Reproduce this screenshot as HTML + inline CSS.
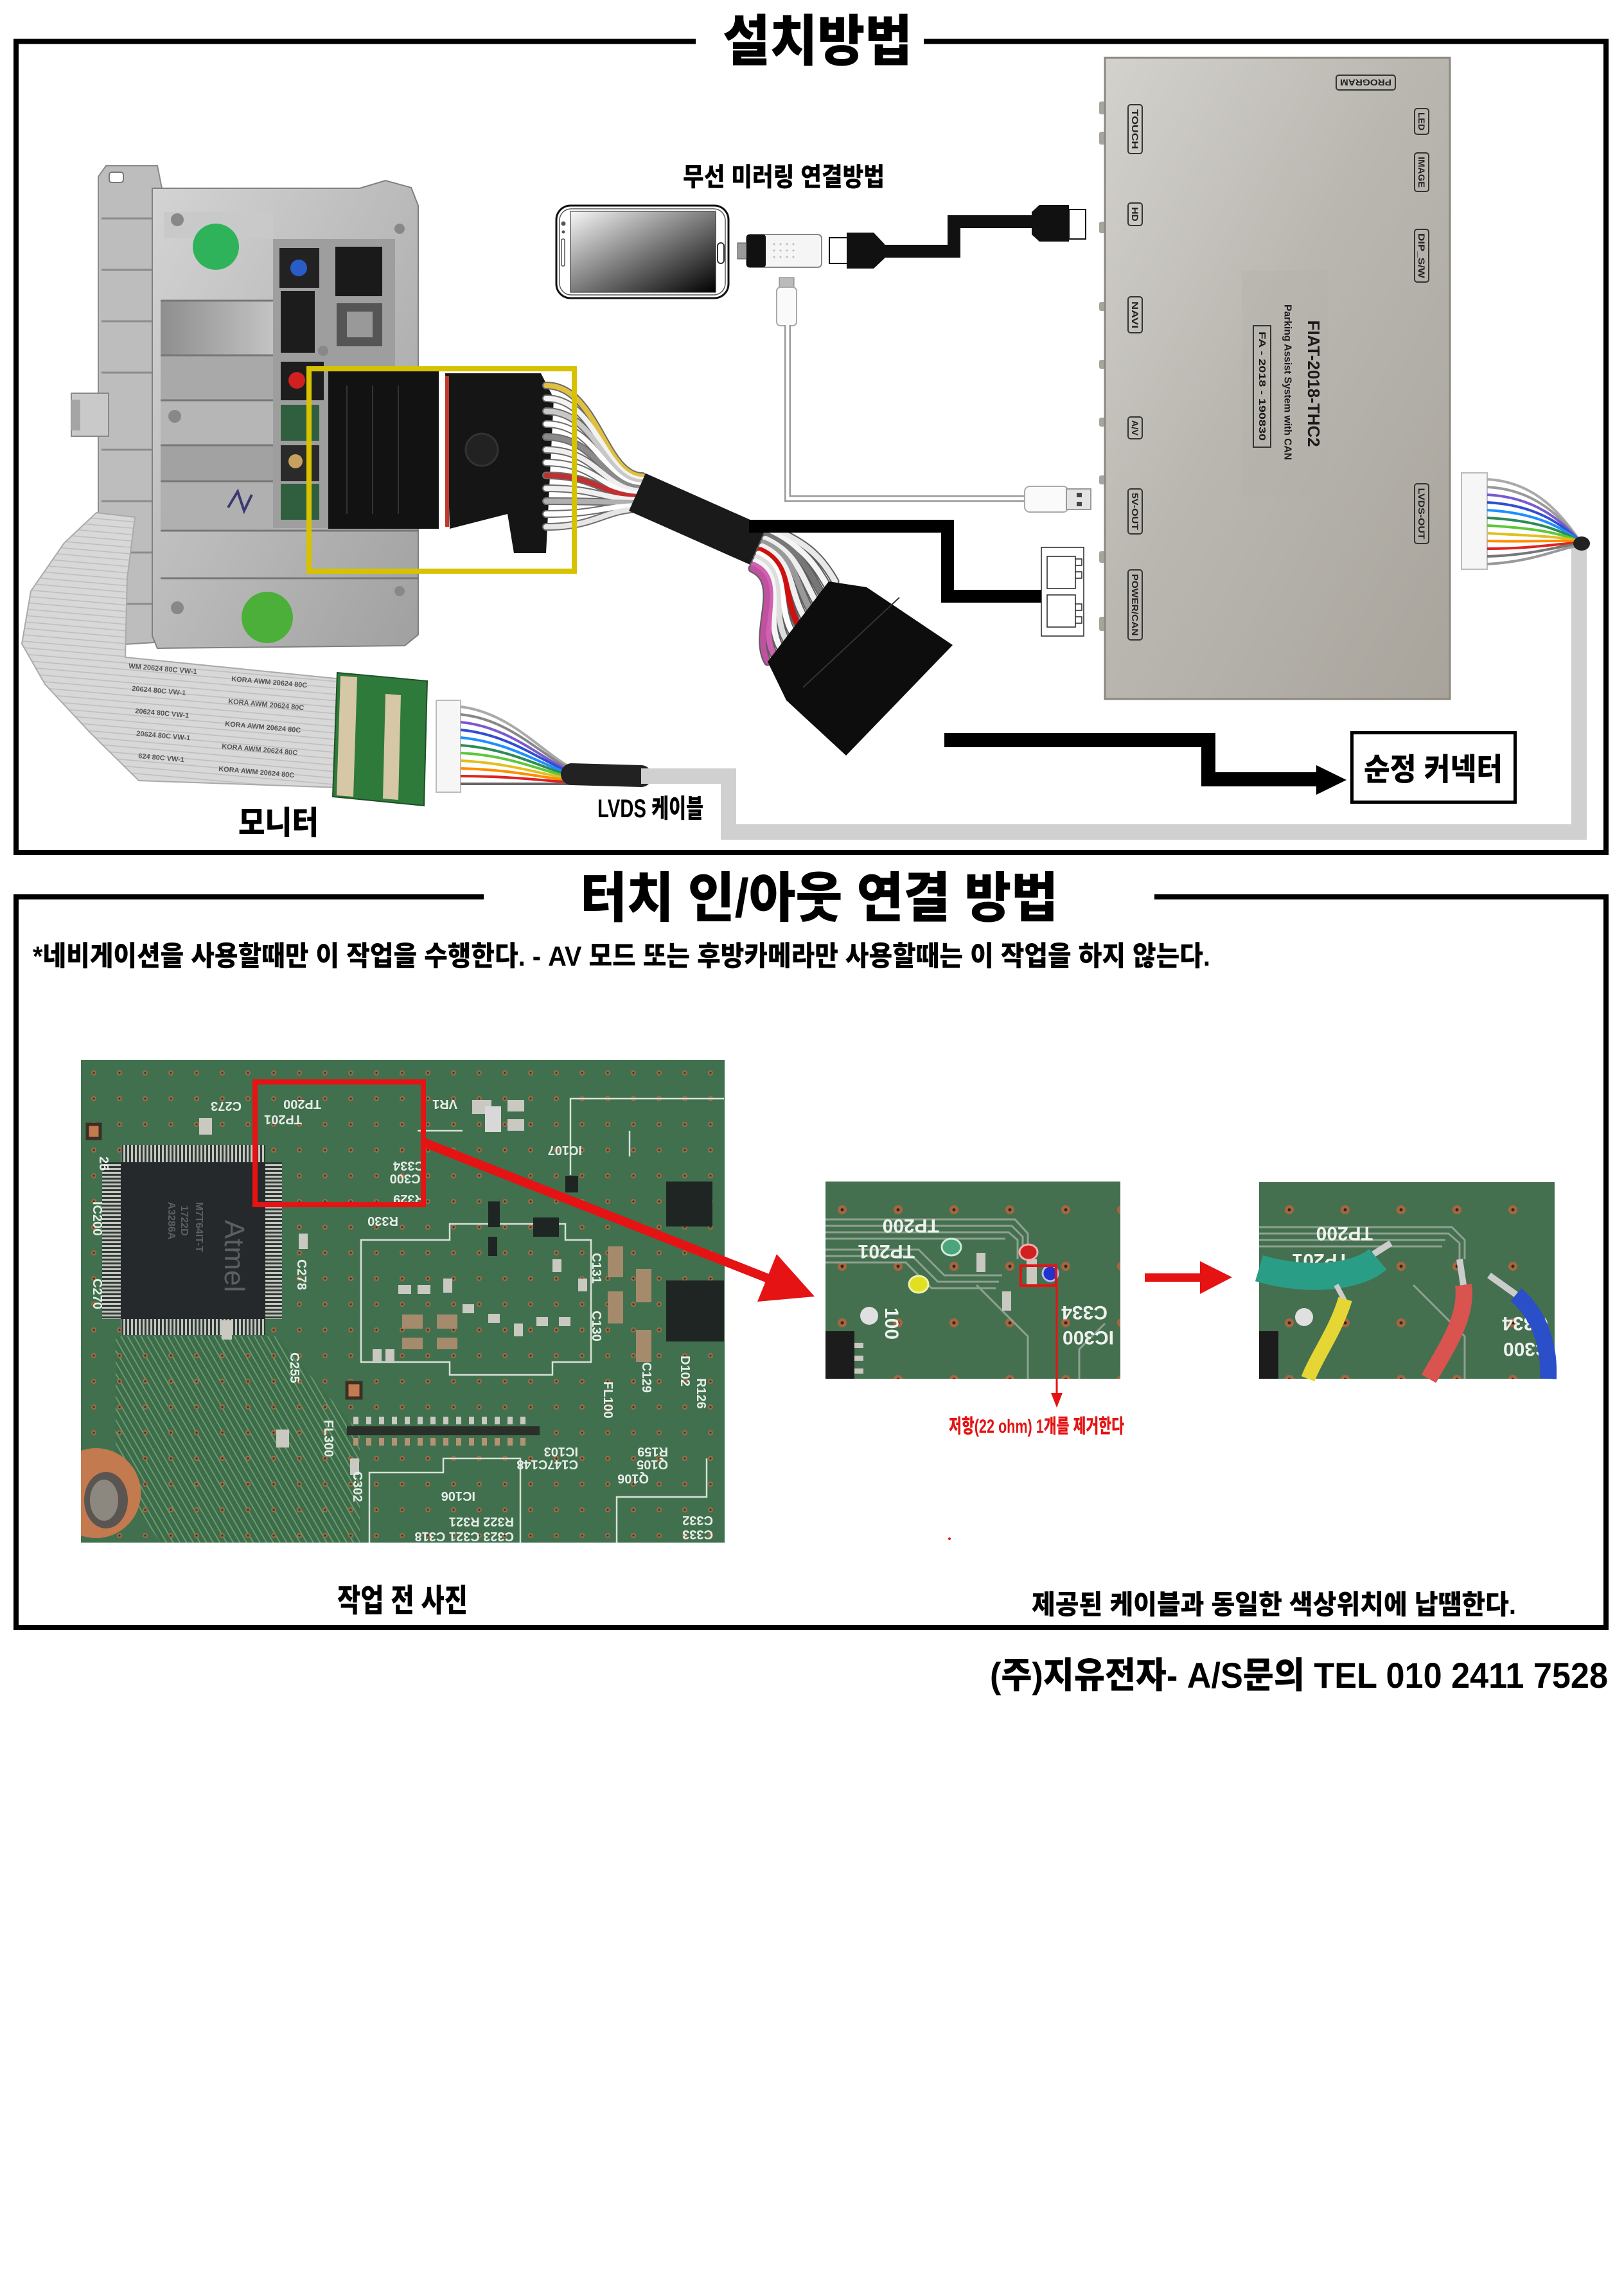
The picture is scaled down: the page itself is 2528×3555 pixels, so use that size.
<!DOCTYPE html>
<html><head><meta charset="utf-8">
<style>
html,body{margin:0;padding:0;background:#fff;}
svg{display:block;}
.k{font-family:"Liberation Sans","Noto Sans CJK KR",sans-serif;font-weight:900;fill:#000;}
.l{font-family:"Liberation Sans",sans-serif;font-weight:bold;}
</style></head><body>
<svg width="2528" height="3555" viewBox="0 0 2528 3555" xmlns="http://www.w3.org/2000/svg">
<defs>
<linearGradient id="metal" x1="0" y1="0" x2="1" y2="1"><stop offset="0" stop-color="#d4d4d4"/><stop offset="0.5" stop-color="#bababa"/><stop offset="1" stop-color="#a0a0a0"/></linearGradient>
<linearGradient id="shade" x1="0" y1="0" x2="1" y2="0"><stop offset="0" stop-color="#8e8e8e"/><stop offset="1" stop-color="#c6c6c6"/></linearGradient>
<linearGradient id="dev" x1="0" y1="0" x2="1" y2="1"><stop offset="0" stop-color="#d4d2cd"/><stop offset="0.45" stop-color="#bab7b1"/><stop offset="1" stop-color="#a8a49c"/></linearGradient>
<linearGradient id="scr" x1="0" y1="0" x2="1" y2="1"><stop offset="0" stop-color="#f6f6f6"/><stop offset="1" stop-color="#000"/></linearGradient>
<pattern id="vias" width="40" height="40" patternUnits="userSpaceOnUse" x="126" y="1650"><circle cx="20" cy="20" r="4" fill="#a06a45"/><circle cx="20" cy="20" r="1.6" fill="#2b3b2e"/></pattern>
<pattern id="vias2" width="87" height="88" patternUnits="userSpaceOnUse" x="1268" y="1840"><circle cx="43" cy="43" r="7" fill="#a8653f"/><circle cx="43" cy="43" r="2.5" fill="#2a2a22"/></pattern>
<pattern id="rib" width="10" height="10" patternUnits="userSpaceOnUse" patternTransform="rotate(5)"><rect width="10" height="10" fill="#d8d8d8"/><line x1="0" y1="1" x2="10" y2="1" stroke="#bcbcbc" stroke-width="1.5"/></pattern>
<pattern id="tr" width="9" height="9" patternUnits="userSpaceOnUse" patternTransform="rotate(60)"><rect width="9" height="9" fill="#3d6c4a"/><line x1="0" y1="4" x2="9" y2="4" stroke="#6a9a6e" stroke-width="2"/></pattern>
<pattern id="pins" width="6" height="6" patternUnits="userSpaceOnUse"><rect width="6" height="6" fill="#2f3a33"/><rect width="3" height="6" fill="#c4c6c2"/></pattern>
<pattern id="pinsh" width="6" height="6" patternUnits="userSpaceOnUse"><rect width="6" height="6" fill="#2f3a33"/><rect width="6" height="3" fill="#c4c6c2"/></pattern>
</defs>
<rect width="2528" height="3555" fill="#fff"/>

<!-- ============ SECTION 1 BORDER ============ -->
<g stroke="#000" stroke-width="8" fill="none">
<path d="M21,64.5 H1083 M1438,64.5 H2504 M25,61 V1331 M2500,61 V1331 M21,1327 H2504"/>
</g>
<text class="k" x="1125" y="94" font-size="86" textLength="295" lengthAdjust="spacingAndGlyphs">설치방법</text>

<!-- ============ HEAD UNIT ============ -->
<g>
<polygon points="153,275 165,258 245,258 252,293 240,1000 160,1005 153,985" fill="#bdbdbd" stroke="#8a8a8a" stroke-width="2"/>
<g stroke="#8c8c8c" stroke-width="3"><line x1="158" y1="340" x2="236" y2="340"/><line x1="158" y1="420" x2="236" y2="420"/><line x1="158" y1="500" x2="236" y2="500"/><line x1="158" y1="580" x2="236" y2="580"/><line x1="158" y1="700" x2="236" y2="700"/><line x1="158" y1="780" x2="236" y2="780"/><line x1="158" y1="860" x2="236" y2="860"/><line x1="158" y1="940" x2="236" y2="940"/></g>
<rect x="170" y="268" width="22" height="16" rx="4" fill="#fff" stroke="#777" stroke-width="2"/>
<rect x="111" y="612" width="58" height="67" fill="#c9c9c9" stroke="#888" stroke-width="2"/>
<rect x="111" y="622" width="14" height="48" fill="#a5a5a5"/>
<polygon points="237,293 560,293 600,281 640,292 651,320 651,988 630,1005 245,1009 237,990" fill="url(#metal)" stroke="#808080" stroke-width="2"/>
<rect x="255" y="330" width="170" height="40" fill="#c9c9c9"/>
<rect x="250" y="468" width="185" height="85" fill="url(#shade)"/>
<rect x="250" y="553" width="185" height="70" fill="#a9a9a9"/>
<rect x="250" y="623" width="185" height="70" fill="#b6b6b6"/>
<rect x="250" y="693" width="185" height="56" fill="#a2a2a2"/>
<rect x="250" y="749" width="185" height="77" fill="#b0b0b0"/>
<g stroke="#777" stroke-width="3"><line x1="250" y1="468" x2="435" y2="468"/><line x1="250" y1="553" x2="435" y2="553"/><line x1="250" y1="623" x2="435" y2="623"/><line x1="250" y1="693" x2="435" y2="693"/><line x1="250" y1="749" x2="435" y2="749"/><line x1="250" y1="826" x2="651" y2="826"/><line x1="250" y1="900" x2="651" y2="900"/></g>
<rect x="425" y="372" width="190" height="450" fill="#9e9e9e"/>
<rect x="435" y="386" width="62" height="62" fill="#222"/><circle cx="465" cy="417" r="13" fill="#2a5cc8"/>
<rect x="522" y="384" width="73" height="77" fill="#1a1a1a"/>
<rect x="437" y="453" width="53" height="96" fill="#1c1c1c"/>
<rect x="524" y="472" width="71" height="67" fill="#555"/><rect x="540" y="485" width="40" height="40" fill="#999"/>
<rect x="437" y="563" width="67" height="60" fill="#1d1d1d"/><circle cx="462" cy="592" r="13" fill="#d02020"/>
<rect x="437" y="630" width="60" height="56" fill="#2f5f3f"/>
<rect x="437" y="693" width="60" height="56" fill="#2a2a2a"/><circle cx="460" cy="718" r="11" fill="#c8a060"/>
<rect x="437" y="753" width="60" height="56" fill="#2f5f3f"/>
<circle cx="276" cy="342" r="10" fill="#888"/><circle cx="272" cy="648" r="10" fill="#888"/><circle cx="276" cy="946" r="10" fill="#888"/><circle cx="622" cy="356" r="8" fill="#888"/><circle cx="622" cy="920" r="8" fill="#888"/><circle cx="503" cy="546" r="8" fill="#888"/>
<circle cx="336" cy="384" r="36" fill="#2fb35a"/>
<circle cx="416" cy="961" r="40" fill="#4caf3a"/>
<path d="M355,790 l15,-25 l10,30 l12,-25" stroke="#3a3a70" stroke-width="4" fill="none"/>
</g>

<!-- ribbon -->
<polygon points="150,798 210,805 198,900 195,1023 543,1058 532,1226 216,1215 140,1140 70,1065 34,1002 48,920 100,845" fill="url(#rib)" stroke="#aaa" stroke-width="2"/>
<g class="l" font-size="11" fill="#555">
<text x="200" y="1040" transform="rotate(5 200 1040)">WM 20624 80C VW-1</text>
<text x="360" y="1060" transform="rotate(5 360 1060)">KORA AWM 20624 80C</text>
<text x="205" y="1075" transform="rotate(5 205 1075)">20624 80C VW-1</text>
<text x="355" y="1095" transform="rotate(5 355 1095)">KORA AWM 20624 80C</text>
<text x="210" y="1110" transform="rotate(5 210 1110)">20624 80C VW-1</text>
<text x="350" y="1130" transform="rotate(5 350 1130)">KORA AWM 20624 80C</text>
<text x="212" y="1145" transform="rotate(5 212 1145)">20624 80C VW-1</text>
<text x="345" y="1165" transform="rotate(5 345 1165)">KORA AWM 20624 80C</text>
<text x="215" y="1180" transform="rotate(5 215 1180)">624 80C VW-1</text>
<text x="340" y="1200" transform="rotate(5 340 1200)">KORA AWM 20624 80C</text>
</g>
<!-- small green pcb -->
<polygon points="525,1047 665,1060 660,1254 518,1240" fill="#2e7a3a" stroke="#1f4f27" stroke-width="2"/>
<polygon points="530,1052 556,1054 550,1240 524,1238" fill="#d6c7a6"/>
<polygon points="600,1080 624,1082 620,1245 596,1243" fill="#d6c7a6"/>

<!-- monitor-side LVDS connector -->
<rect x="679" y="1090" width="38" height="143" fill="#f6f6f6" stroke="#bbb" stroke-width="2"/>
<g fill="none" stroke-width="4">
<path d="M717,1100 C800,1110 850,1180 900,1200" stroke="#aaa"/>
<path d="M717,1112 C800,1120 850,1185 900,1202" stroke="#888"/>
<path d="M717,1124 C800,1132 850,1190 900,1204" stroke="#7a5ad0"/>
<path d="M717,1136 C800,1144 850,1192 900,1206" stroke="#3050d0"/>
<path d="M717,1148 C800,1156 850,1196 900,1208" stroke="#1e90ff"/>
<path d="M717,1160 C800,1166 850,1200 900,1210" stroke="#2e8b57"/>
<path d="M717,1172 C800,1176 850,1204 900,1212" stroke="#5cc83a"/>
<path d="M717,1184 C800,1188 850,1208 900,1214" stroke="#e0c020"/>
<path d="M717,1196 C800,1198 850,1212 900,1216" stroke="#ff8c00"/>
<path d="M717,1208 C800,1208 850,1216 900,1218" stroke="#d22"/>
<path d="M717,1220 C800,1220 850,1220 900,1220" stroke="#666"/>
</g>
<path d="M890,1205 L998,1208" stroke="#222" stroke-width="34" stroke-linecap="round"/>

<!-- gray LVDS cable -->
<path d="M998,1208 H1134 V1295 H2458 V852" stroke="#d0d0d0" stroke-width="24" fill="none"/>

<!-- harness: connectors in yellow box -->
<rect x="511" y="577" width="172" height="246" fill="#121212"/>
<g stroke="#333" stroke-width="2"><line x1="540" y1="600" x2="540" y2="800"/><line x1="580" y1="600" x2="580" y2="800"/><line x1="620" y1="600" x2="620" y2="800"/></g>
<polygon points="693,581 842,581 862,620 850,861 800,861 790,800 700,823" fill="#151515"/>
<rect x="693" y="585" width="6" height="235" fill="#c0392b"/>
<circle cx="750" cy="700" r="25" fill="#222" stroke="#333" stroke-width="3"/>

<!-- wires A -->
<g fill="none" stroke-linecap="round">
<g stroke="#6d6d6d" stroke-width="12">
<path d="M850,600 C930,600 940,741 1000,741"/><path d="M850,620 C930,620 940,746 1000,746"/><path d="M850,640 C930,640 940,750 1000,750"/><path d="M850,660 C930,660 940,755 1000,755"/><path d="M850,680 C930,680 940,759 1000,759"/><path d="M850,700 C930,700 940,764 1000,764"/><path d="M850,720 C930,720 940,769 1000,769"/><path d="M850,740 C930,740 940,773 1000,773"/><path d="M850,760 C930,760 940,778 1000,778"/><path d="M850,780 C930,780 940,782 1000,782"/><path d="M850,800 C930,800 940,787 1000,787"/><path d="M850,820 C930,820 940,792 1000,792"/>
</g>
<g stroke-width="8">
<path d="M850,600 C930,600 940,741 1000,741" stroke="#e0c040"/><path d="M850,620 C930,620 940,746 1000,746" stroke="#f2f2f2"/><path d="M850,640 C930,640 940,750 1000,750" stroke="#c8c8c8"/><path d="M850,660 C930,660 940,755 1000,755" stroke="#fff"/><path d="M850,680 C930,680 940,759 1000,759" stroke="#8a8a8a"/><path d="M850,700 C930,700 940,764 1000,764" stroke="#eee"/><path d="M850,720 C930,720 940,769 1000,769" stroke="#fafafa"/><path d="M850,740 C930,740 940,773 1000,773" stroke="#c03030"/><path d="M850,760 C930,760 940,778 1000,778" stroke="#f0f0f0"/><path d="M850,780 C930,780 940,782 1000,782" stroke="#b0b0b0"/><path d="M850,800 C930,800 940,787 1000,787" stroke="#fff"/><path d="M850,820 C930,820 940,792 1000,792" stroke="#e6e6e6"/>
</g>
</g>
<!-- tape -->
<path d="M992,766 L1188,853" stroke="#1a1a1a" stroke-width="64"/>
<!-- wires B -->
<g fill="none" stroke-linecap="round">
<g stroke="#5e5e5e" stroke-width="13">
<path d="M1199,821 C1249,843 1275,860 1300,905"/><path d="M1196.5,826.8 C1246,849 1265,871 1290.5,916.4"/><path d="M1193.9,832.6 C1244,855 1256,883 1280.9,927.7"/><path d="M1191.4,838.5 C1241,861 1246,894 1271.4,939.1"/><path d="M1188.8,844.3 C1239,866 1237,905 1261.8,950.5"/><path d="M1186.3,850.1 C1236,872 1227,917 1252.3,961.8"/><path d="M1183.7,855.9 C1234,878 1218,928 1242.7,973.2"/><path d="M1181.2,861.7 C1231,884 1208,940 1233.2,984.5"/><path d="M1178.6,867.5 C1229,890 1199,951 1223.6,995.9"/><path d="M1176.1,873.4 C1226,895 1189,962 1214.1,1007.3"/><path d="M1173.5,879.2 C1224,901 1180,974 1204.5,1018.6"/><path d="M1171,885 C1221,907 1170,985 1195,1030"/>
</g>
<g stroke-width="9">
<path d="M1199,821 C1249,843 1275,860 1300,905" stroke="#e8e8e8"/><path d="M1196.5,826.8 C1246,849 1265,871 1290.5,916.4" stroke="#f4f4f4"/><path d="M1193.9,832.6 C1244,855 1256,883 1280.9,927.7" stroke="#777"/><path d="M1191.4,838.5 C1241,861 1246,894 1271.4,939.1" stroke="#eee"/><path d="M1188.8,844.3 C1239,866 1237,905 1261.8,950.5" stroke="#999"/><path d="M1186.3,850.1 C1236,872 1227,917 1252.3,961.8" stroke="#f0f0f0"/><path d="M1183.7,855.9 C1234,878 1218,928 1242.7,973.2" stroke="#cc1111"/><path d="M1181.2,861.7 C1231,884 1208,940 1233.2,984.5" stroke="#fff"/><path d="M1178.6,867.5 C1229,890 1199,951 1223.6,995.9" stroke="#ddd"/><path d="M1176.1,873.4 C1226,895 1189,962 1214.1,1007.3" stroke="#f5f5f5"/><path d="M1173.5,879.2 C1224,901 1180,974 1204.5,1018.6" stroke="#d060b0"/><path d="M1171,885 C1221,907 1170,985 1195,1030" stroke="#c050a0"/>
</g>
</g>
<!-- harness black connector -->
<polygon points="1195,1030 1290,905 1349,914 1483,1004 1317,1176 1224,1090" fill="#0d0d0d"/>
<line x1="1250" y1="1070" x2="1400" y2="930" stroke="#333" stroke-width="2"/>

<!-- yellow box -->
<rect x="481" y="574" width="413" height="315" fill="none" stroke="#d6c200" stroke-width="8"/>

<!-- black line to power connector -->
<path d="M1166,819 H1475 V928 H1625" stroke="#000" stroke-width="20" fill="none"/>
<!-- power connector white -->
<g fill="#fff" stroke="#222" stroke-width="1.5">
<rect x="1621" y="852" width="66" height="138"/>
<rect x="1630" y="866" width="44" height="50"/>
<rect x="1630" y="926" width="44" height="50"/>
<path d="M1674,870 h10 v10 h-10 M1674,890 h10 v10 h-10 M1674,940 h10 v10 h-10 M1674,960 h10 v10 h-10" fill="none"/>
</g>

<!-- phone -->
<rect x="866" y="320" width="268" height="144" rx="22" fill="#fff" stroke="#111" stroke-width="3"/>
<rect x="871" y="325" width="258" height="134" rx="18" fill="none" stroke="#555" stroke-width="1.5"/>
<rect x="888" y="329" width="226" height="126" fill="url(#scr)" stroke="#222" stroke-width="1"/>
<circle cx="877" cy="348" r="3.5" fill="#555"/><circle cx="877" cy="361" r="2.5" fill="#555"/>
<rect x="874" y="372" width="5" height="42" rx="2" fill="none" stroke="#555" stroke-width="1.5"/>
<rect x="1117" y="378" width="10" height="32" rx="5" fill="none" stroke="#333" stroke-width="2"/>
<!-- dongle -->
<rect x="1148" y="378" width="16" height="25" fill="#9a9a9a" stroke="#555" stroke-width="1"/>
<rect x="1162" y="365" width="117" height="51" rx="6" fill="#f5f5f5" stroke="#888" stroke-width="2"/>
<rect x="1162" y="365" width="30" height="51" rx="4" fill="#111"/>
<g fill="#bbb"><circle cx="1205" cy="380" r="1.5"/><circle cx="1215" cy="380" r="1.5"/><circle cx="1225" cy="380" r="1.5"/><circle cx="1235" cy="380" r="1.5"/><circle cx="1205" cy="390" r="1.5"/><circle cx="1215" cy="390" r="1.5"/><circle cx="1225" cy="390" r="1.5"/><circle cx="1235" cy="390" r="1.5"/><circle cx="1205" cy="400" r="1.5"/><circle cx="1215" cy="400" r="1.5"/><circle cx="1225" cy="400" r="1.5"/><circle cx="1235" cy="400" r="1.5"/></g>
<!-- HDMI plug left -->
<rect x="1291" y="370" width="28" height="40" fill="#fff" stroke="#111" stroke-width="2"/>
<polygon points="1318,362 1360,362 1377,380 1377,402 1360,418 1318,418" fill="#111"/>
<path d="M1377,391 H1485 V345 H1606" stroke="#111" stroke-width="20" fill="none"/>
<!-- HDMI plug right -->
<polygon points="1606,330 1618,319 1664,319 1664,376 1618,376 1606,365" fill="#111"/>
<rect x="1664" y="326" width="26" height="46" fill="#fff" stroke="#111" stroke-width="2"/>
<!-- micro usb + cable -->
<rect x="1213" y="432" width="23" height="16" fill="#bbb" stroke="#777" stroke-width="1"/>
<rect x="1209" y="447" width="31" height="60" rx="6" fill="#fafafa" stroke="#aaa" stroke-width="2"/>
<path d="M1226,506 V776 H1598" stroke="#9a9a9a" stroke-width="10" fill="none"/>
<path d="M1226,506 V776 H1598" stroke="#fff" stroke-width="5" fill="none"/>
<rect x="1595" y="757" width="68" height="40" rx="8" fill="#fafafa" stroke="#aaa" stroke-width="2"/>
<rect x="1660" y="761" width="38" height="32" fill="#e4e4e4" stroke="#999" stroke-width="2"/>
<rect x="1676" y="767" width="8" height="7" fill="#444"/><rect x="1676" y="781" width="8" height="7" fill="#444"/>
<text class="k" x="1063" y="289" font-size="40" textLength="314" lengthAdjust="spacingAndGlyphs">무선 미러링 연결방법</text>

<!-- ============ DEVICE ============ -->
<g fill="#a7a49e">
<rect x="1711" y="158" width="12" height="20" rx="3"/><rect x="1711" y="205" width="12" height="20" rx="3"/><rect x="1711" y="345" width="12" height="18" rx="3"/><rect x="1711" y="470" width="12" height="14" rx="3"/><rect x="1711" y="560" width="12" height="14" rx="3"/><rect x="1711" y="650" width="12" height="14" rx="3"/><rect x="1711" y="740" width="12" height="14" rx="3"/><rect x="1711" y="858" width="12" height="18" rx="3"/><rect x="1711" y="960" width="12" height="22" rx="3"/>
</g>
<rect x="1720" y="90" width="537" height="998" fill="url(#dev)" stroke="#8c8880" stroke-width="3"/>
<rect x="1933" y="421" width="134" height="352" fill="#b2afa8" opacity="0.3"/>
<g fill="none" stroke="#333" stroke-width="2">
<rect x="1756" y="163" width="22" height="76" rx="4"/>
<rect x="1756" y="316" width="22" height="35" rx="4"/>
<rect x="1756" y="462" width="22" height="56" rx="4"/>
<rect x="1756" y="649" width="22" height="34" rx="4"/>
<rect x="1756" y="761" width="22" height="70" rx="4"/>
<rect x="1756" y="887" width="22" height="109" rx="4"/>
<rect x="2202" y="169" width="22" height="40" rx="4"/>
<rect x="2202" y="238" width="22" height="60" rx="4"/>
<rect x="2202" y="357" width="22" height="82" rx="4"/>
<rect x="2202" y="753" width="22" height="93" rx="4"/>
<rect x="2080" y="117" width="92" height="23" rx="4"/>
<rect x="1951" y="507" width="27" height="189"/>
</g>
<g class="l" fill="#222" font-size="14" font-weight="normal" text-anchor="middle" dominant-baseline="central">
<text transform="translate(1767,201) rotate(90)" textLength="62" lengthAdjust="spacingAndGlyphs">TOUCH</text>
<text transform="translate(1767,333.5) rotate(90)" textLength="22" lengthAdjust="spacingAndGlyphs">HD</text>
<text transform="translate(1767,490) rotate(90)" textLength="42" lengthAdjust="spacingAndGlyphs">NAVI</text>
<text transform="translate(1767,666) rotate(90)" textLength="24" lengthAdjust="spacingAndGlyphs">A/V</text>
<text transform="translate(1767,796) rotate(90)" textLength="58" lengthAdjust="spacingAndGlyphs">5V-OUT</text>
<text transform="translate(1767,941.5) rotate(90)" textLength="96" lengthAdjust="spacingAndGlyphs">POWER/CAN</text>
<text transform="translate(2213,189) rotate(90)" textLength="28" lengthAdjust="spacingAndGlyphs">LED</text>
<text transform="translate(2213,268) rotate(90)" textLength="48" lengthAdjust="spacingAndGlyphs">IMAGE</text>
<text transform="translate(2213,398) rotate(90)" textLength="70" lengthAdjust="spacingAndGlyphs">DIP_S/W</text>
<text transform="translate(2213,799.5) rotate(90)" textLength="80" lengthAdjust="spacingAndGlyphs">LVDS-OUT</text>
<text transform="translate(2126,128.5) rotate(180)" textLength="80" lengthAdjust="spacingAndGlyphs">PROGRAM</text>
</g>
<g class="l" fill="#1a1a1a" text-anchor="middle" dominant-baseline="central">
<text transform="translate(2045,597) rotate(90)" font-size="26" textLength="197" lengthAdjust="spacingAndGlyphs">FIAT-2018-THC2</text>
<text transform="translate(2004,595) rotate(90)" font-size="16" textLength="242" lengthAdjust="spacingAndGlyphs">Parking Assist System with CAN</text>
<text transform="translate(1964.5,601) rotate(90)" font-size="15" textLength="170" lengthAdjust="spacingAndGlyphs">FA - 2018 - 190830</text>
</g>

<!-- right LVDS connector -->
<rect x="2275" y="736" width="40" height="150" fill="#f6f6f6" stroke="#bbb" stroke-width="2"/>
<g fill="none" stroke-width="4">
<path d="M2315,746 C2390,750 2430,800 2460,843" stroke="#aaa"/>
<path d="M2315,758 C2390,762 2430,805 2460,843" stroke="#999"/>
<path d="M2315,770 C2390,774 2430,810 2460,843" stroke="#7a5ad0"/>
<path d="M2315,782 C2390,786 2430,815 2460,843" stroke="#3050d0"/>
<path d="M2315,794 C2390,798 2430,820 2460,843" stroke="#1e90ff"/>
<path d="M2315,806 C2390,810 2430,825 2460,843" stroke="#2e8b57"/>
<path d="M2315,818 C2390,822 2430,830 2460,843" stroke="#5cc83a"/>
<path d="M2315,830 C2390,834 2430,835 2460,843" stroke="#e0c020"/>
<path d="M2315,842 C2390,844 2430,840 2460,843" stroke="#ff8c00"/>
<path d="M2315,854 C2390,854 2430,845 2460,845" stroke="#d22"/>
<path d="M2315,866 C2390,864 2430,848 2460,847" stroke="#777"/>
<path d="M2315,878 C2390,874 2430,852 2460,849" stroke="#999"/>
</g>
<ellipse cx="2462" cy="846" rx="13" ry="11" fill="#222"/>

<!-- black arrow to 순정 커넥터 -->
<path d="M1470,1152 H1881 V1213 H2052" stroke="#000" stroke-width="22" fill="none"/>
<polygon points="2049,1191 2049,1237 2096,1214" fill="#000"/>
<rect x="2104.5" y="1140.5" width="254" height="108" fill="#fff" stroke="#000" stroke-width="5"/>
<text class="k" x="2123" y="1214" font-size="48" textLength="216" lengthAdjust="spacingAndGlyphs">순정 커넥터</text>

<text class="k" x="371" y="1298" font-size="50" textLength="125" lengthAdjust="spacingAndGlyphs">모니터</text>
<text class="k" x="930" y="1272" font-size="40" textLength="165" lengthAdjust="spacingAndGlyphs">LVDS 케이블</text>

<!-- ============ SECTION 2 ============ -->
<g stroke="#000" stroke-width="8" fill="none">
<path d="M21,1396 H753 M1797,1396 H2504 M25,1392 V2537 M2500,1392 V2537 M21,2533 H2504"/>
</g>
<text class="k" x="903" y="1427" font-size="84" textLength="744" lengthAdjust="spacingAndGlyphs">터치 인/아웃 연결 방법</text>
<text class="k" x="51" y="1503" font-size="43" textLength="1833" lengthAdjust="spacingAndGlyphs">*네비게이션을 사용할때만 이 작업을 수행한다. - AV 모드 또는 후방카메라만 사용할때는 이 작업을 하지 않는다.</text>

<!-- big PCB -->
<rect x="126" y="1650" width="1002" height="751" fill="#41704e"/>
<polygon points="180,2080 430,2080 560,2230 560,2401 250,2401 180,2300" fill="url(#tr)"/>
<rect x="126" y="1650" width="1002" height="751" fill="url(#vias)"/>
<g fill="none" stroke="#d8e2d8" stroke-width="2.5">
<path d="M562,1930 H700 V1905 H880 V1930 H920 V2120 H860 V2140 H700 V2120 H562 Z"/>
<path d="M888,1829 V1710 H1127"/>
<path d="M575,2401 V2292 H690 V2270 H810 V2401"/>
<path d="M960,2401 V2330 H1100 V2270"/>
<path d="M650,1760 H720 M980,1760 V1800"/>
</g>
<!-- chip -->
<rect x="188" y="1782" width="225" height="27" fill="url(#pins)"/>
<rect x="188" y="2053" width="225" height="25" fill="url(#pins)"/>
<rect x="159" y="1809" width="29" height="244" fill="url(#pinsh)"/>
<rect x="413" y="1809" width="26" height="244" fill="url(#pinsh)"/>
<rect x="188" y="1809" width="225" height="244" fill="#26292c"/>
<g fill="#5b5e62" class="l">
<text transform="translate(350,1955) rotate(90)" font-size="44" font-weight="normal" text-anchor="middle">Atmel</text>
<text transform="translate(305,1910) rotate(90)" font-size="16" text-anchor="middle">M7T64IT-T</text>
<text transform="translate(282,1900) rotate(90)" font-size="16" text-anchor="middle">1722D</text>
<text transform="translate(262,1900) rotate(90)" font-size="16" text-anchor="middle">A3286A</text>
</g>
<!-- copper circle -->
<path d="M126,2258 A70,70 0 1 1 126,2390 Z" fill="#c27a4e"/>
<ellipse cx="165" cy="2335" rx="34" ry="44" fill="#5a5550"/>
<ellipse cx="162" cy="2335" rx="22" ry="32" fill="#8d887f"/>
<rect x="136" y="1750" width="20" height="22" fill="#c27a4e" stroke="#3a2f25" stroke-width="5"/>
<rect x="540" y="2152" width="22" height="24" fill="#c27a4e" stroke="#3a2f25" stroke-width="5"/>
<!-- components -->
<g fill="#c9c9c2">
<rect x="735" y="1712" width="30" height="22"/><rect x="790" y="1712" width="26" height="18"/><rect x="790" y="1742" width="26" height="18"/><rect x="755" y="1722" width="25" height="40" fill="#d8d8d8"/>
<rect x="620" y="2000" width="20" height="14"/><rect x="650" y="2000" width="20" height="14"/><rect x="690" y="1990" width="14" height="22"/><rect x="720" y="2030" width="18" height="14"/><rect x="760" y="2045" width="18" height="14"/><rect x="800" y="2060" width="14" height="20"/><rect x="835" y="2050" width="18" height="14"/><rect x="870" y="2050" width="18" height="14"/>
<rect x="580" y="2100" width="14" height="20"/><rect x="600" y="2100" width="14" height="20"/><rect x="900" y="1990" width="14" height="20"/><rect x="860" y="1960" width="14" height="20"/>
<rect x="345" y="2055" width="16" height="30"/><rect x="465" y="1920" width="14" height="24"/><rect x="310" y="1740" width="20" height="26"/><rect x="430" y="2225" width="20" height="28"/><rect x="545" y="2270" width="14" height="26"/>
</g>
<g fill="#a58b6c">
<rect x="626" y="2046" width="32" height="22"/><rect x="680" y="2046" width="32" height="22"/><rect x="626" y="2082" width="32" height="18"/><rect x="680" y="2082" width="32" height="18"/>
<rect x="946" y="1940" width="24" height="48"/><rect x="990" y="1975" width="24" height="52"/><rect x="946" y="2010" width="24" height="50"/><rect x="990" y="2070" width="24" height="50"/>
</g>
<g fill="#1f2522">
<rect x="760" y="1870" width="18" height="40"/><rect x="760" y="1925" width="14" height="30"/><rect x="830" y="1895" width="40" height="30"/>
<rect x="1037" y="1839" width="72" height="70"/>
<rect x="1037" y="1993" width="90" height="95"/>
<rect x="880" y="1830" width="20" height="26"/>
</g>
<rect x="540" y="2220" width="300" height="14" fill="#2a2f2a"/>
<g fill="#c9c9c2"><rect x="550" y="2205" width="8" height="12"/><rect x="570" y="2205" width="8" height="12"/><rect x="590" y="2205" width="8" height="12"/><rect x="610" y="2205" width="8" height="12"/><rect x="630" y="2205" width="8" height="12"/><rect x="650" y="2205" width="8" height="12"/><rect x="670" y="2205" width="8" height="12"/><rect x="690" y="2205" width="8" height="12"/><rect x="710" y="2205" width="8" height="12"/><rect x="730" y="2205" width="8" height="12"/><rect x="750" y="2205" width="8" height="12"/><rect x="770" y="2205" width="8" height="12"/><rect x="790" y="2205" width="8" height="12"/><rect x="810" y="2205" width="8" height="12"/></g>
<g fill="#b59372"><rect x="550" y="2238" width="8" height="12"/><rect x="570" y="2238" width="8" height="12"/><rect x="590" y="2238" width="8" height="12"/><rect x="610" y="2238" width="8" height="12"/><rect x="630" y="2238" width="8" height="12"/><rect x="650" y="2238" width="8" height="12"/><rect x="670" y="2238" width="8" height="12"/><rect x="690" y="2238" width="8" height="12"/><rect x="710" y="2238" width="8" height="12"/><rect x="730" y="2238" width="8" height="12"/><rect x="750" y="2238" width="8" height="12"/><rect x="770" y="2238" width="8" height="12"/><rect x="790" y="2238" width="8" height="12"/><rect x="810" y="2238" width="8" height="12"/></g>
<g class="l" fill="#e6ece6" font-size="20">
<text transform="translate(376,1715) rotate(180)">C273</text>
<text transform="translate(500,1712) rotate(180)">TP200</text>
<text transform="translate(470,1736) rotate(180)">TP201</text>
<text transform="translate(906,1784) rotate(180)">IC107</text>
<text transform="translate(660,1808) rotate(180)">C334</text>
<text transform="translate(660,1828) rotate(180)">IC300</text>
<text transform="translate(660,1860) rotate(180)">R329</text>
<text transform="translate(620,1894) rotate(180)">R330</text>
<text transform="translate(712,1712) rotate(180)">VR1</text>
<text transform="translate(463,1960) rotate(90)">C278</text>
<text transform="translate(452,2105) rotate(90)">C255</text>
<text transform="translate(922,1950) rotate(90)">C131</text>
<text transform="translate(922,2040) rotate(90)">C130</text>
<text transform="translate(505,2210) rotate(90)">FL300</text>
<text transform="translate(550,2290) rotate(90)">C302</text>
<text transform="translate(940,2150) rotate(90)">FL100</text>
<text transform="translate(1060,2110) rotate(90)">D102</text>
<text transform="translate(1085,2145) rotate(90)">R126</text>
<text transform="translate(1000,2120) rotate(90)">C129</text>
<text transform="translate(740,2322) rotate(180)">IC106</text>
<text transform="translate(900,2253) rotate(180)">IC103</text>
<text transform="translate(900,2273) rotate(180)">C147C148</text>
<text transform="translate(1040,2273) rotate(180)">Q105</text>
<text transform="translate(1010,2295) rotate(180)">Q106</text>
<text transform="translate(1040,2253) rotate(180)">R159</text>
<text transform="translate(800,2362) rotate(180)">R322 R321</text>
<text transform="translate(800,2385) rotate(180)">C323 C321 C318</text>
<text transform="translate(1110,2360) rotate(180)">C332</text>
<text transform="translate(1110,2382) rotate(180)">C333</text>
<text transform="translate(155,1800) rotate(90)">25</text>
<text transform="translate(145,1870) rotate(90)">IC200</text>
<text transform="translate(145,1990) rotate(90)">C270</text>
</g>
<!-- red box + arrow -->
<rect x="397" y="1684" width="262" height="191" fill="none" stroke="#e51313" stroke-width="8"/>
<line x1="659" y1="1778" x2="1196" y2="1990" stroke="#e51313" stroke-width="14"/>
<polygon points="1268,2018 1179,2026 1209,1952" fill="#e51313"/>

<!-- middle photo -->
<rect x="1285" y="1839" width="459" height="307" fill="#44704f"/>
<rect x="1285" y="1839" width="459" height="307" fill="url(#vias2)"/>
<g fill="none" stroke="#8fa191" stroke-width="3">
<path d="M1285,1898 H1580 L1600,1920 V1960"/><path d="M1285,1908 H1575 L1592,1925 V1960"/><path d="M1285,1918 H1570 L1584,1930 V1960"/><path d="M1285,1928 H1565"/><path d="M1285,1945 H1430 L1470,1985 H1560"/><path d="M1285,1955 H1420 L1460,1995 H1555"/><path d="M1285,1965 H1410 L1450,2005 H1550"/>
<path d="M1520,2000 L1600,2080 V2146"/><path d="M1680,2146 V2100 L1720,2060"/>
</g>
<g class="l" fill="#eef2ee" font-size="30">
<text transform="translate(1462,1898) rotate(180)">TP200</text>
<text transform="translate(1424,1938) rotate(180)">TP201</text>
<text transform="translate(1724,2033) rotate(180)">C334</text>
<text transform="translate(1734,2072) rotate(180)">IC300</text>
<text transform="translate(1378,2035) rotate(90)">100</text>
</g>
<circle cx="1353" cy="2048" r="14" fill="#e0e0e0"/>
<rect x="1285" y="2072" width="45" height="74" fill="#1c1c1c"/>
<g fill="#c9c9c2"><rect x="1330" y="2090" width="14" height="8"/><rect x="1330" y="2110" width="14" height="8"/><rect x="1330" y="2130" width="14" height="8"/><rect x="1598" y="1960" width="16" height="40"/><rect x="1520" y="1950" width="14" height="30"/><rect x="1560" y="2010" width="14" height="30"/></g>
<ellipse cx="1481" cy="1941" rx="15" ry="13" fill="#4aa57a" stroke="#cfe8d8" stroke-width="3"/>
<ellipse cx="1601" cy="1949" rx="14" ry="12" fill="#d02020" stroke="#f0b0b0" stroke-width="3"/>
<ellipse cx="1635" cy="1982" rx="12" ry="12" fill="#2233cc" stroke="#b8b8f0" stroke-width="3"/>
<ellipse cx="1430" cy="1999" rx="15" ry="13" fill="#e0e020" stroke="#f0f0b0" stroke-width="3"/>
<rect x="1589" y="1970" width="55" height="31" fill="none" stroke="#e51313" stroke-width="4"/>
<line x1="1645" y1="1995" x2="1645" y2="2172" stroke="#e51313" stroke-width="3"/>
<polygon points="1636,2168 1654,2168 1645,2191" fill="#e51313"/>
<text class="k" x="1477" y="2230" font-size="30" textLength="273" lengthAdjust="spacingAndGlyphs" style="fill:#e51313">저항(22 ohm) 1개를 제거한다</text>
<circle cx="1478" cy="2395" r="2" fill="#e51313"/>

<!-- red arrow between photos -->
<rect x="1782" y="1982" width="90" height="13" fill="#e51313"/>
<polygon points="1868,1963 1918,1988 1868,2014" fill="#e51313"/>

<!-- right photo -->
<rect x="1960" y="1840" width="460" height="306" fill="#44704f"/>
<rect x="1960" y="1840" width="460" height="306" fill="url(#vias2)"/>
<g fill="none" stroke="#8fa191" stroke-width="3">
<path d="M1960,1910 H2260 L2280,1930 V1960"/><path d="M1960,1920 H2255 L2272,1935 V1960"/><path d="M1960,1930 H2250"/><path d="M1960,1940 H2245"/>
<path d="M2200,2000 L2280,2080 V2146"/>
</g>
<g class="l" fill="#eef2ee" font-size="30">
<text transform="translate(2137,1910) rotate(180)">TP200</text>
<text transform="translate(2100,1952) rotate(180)">TP201</text>
<text transform="translate(2410,2050) rotate(180)">C334</text>
<text transform="translate(2420,2090) rotate(180)">IC300</text>
</g>
<circle cx="2030" cy="2050" r="14" fill="#e0e0e0"/>
<rect x="1960" y="2072" width="30" height="74" fill="#1c1c1c"/>
<path d="M2138,1952 L2165,1935" stroke="#ccc" stroke-width="10"/>
<path d="M1960,1974 C2030,1995 2110,1990 2145,1960" stroke="#2a9d86" stroke-width="42" fill="none"/>
<path d="M2080,2000 L2096,2030" stroke="#ccc" stroke-width="8"/>
<path d="M2094,2022 C2080,2070 2050,2110 2036,2146" stroke="#e6d635" stroke-width="22" fill="none"/>
<path d="M2272,1960 L2278,2000" stroke="#ccc" stroke-width="10"/>
<path d="M2278,2000 C2285,2050 2250,2100 2224,2146" stroke="#d9534f" stroke-width="26" fill="none"/>
<path d="M2318,1985 L2360,2015" stroke="#ccc" stroke-width="10"/>
<path d="M2360,2015 C2400,2050 2412,2100 2410,2146" stroke="#2b4fc8" stroke-width="26" fill="none"/>

<text class="k" x="525" y="2508" font-size="49" textLength="203" lengthAdjust="spacingAndGlyphs">작업 전 사진</text>
<text class="k" x="1606" y="2512" font-size="42" textLength="754" lengthAdjust="spacingAndGlyphs">제공된 케이블과 동일한 색상위치에 납땜한다.</text>

<!-- footer -->
<text class="k" x="1541" y="2627" font-size="56" textLength="962" lengthAdjust="spacingAndGlyphs">(주)지유전자- A/S문의 TEL 010 2411 7528</text>
</svg>
</body></html>
